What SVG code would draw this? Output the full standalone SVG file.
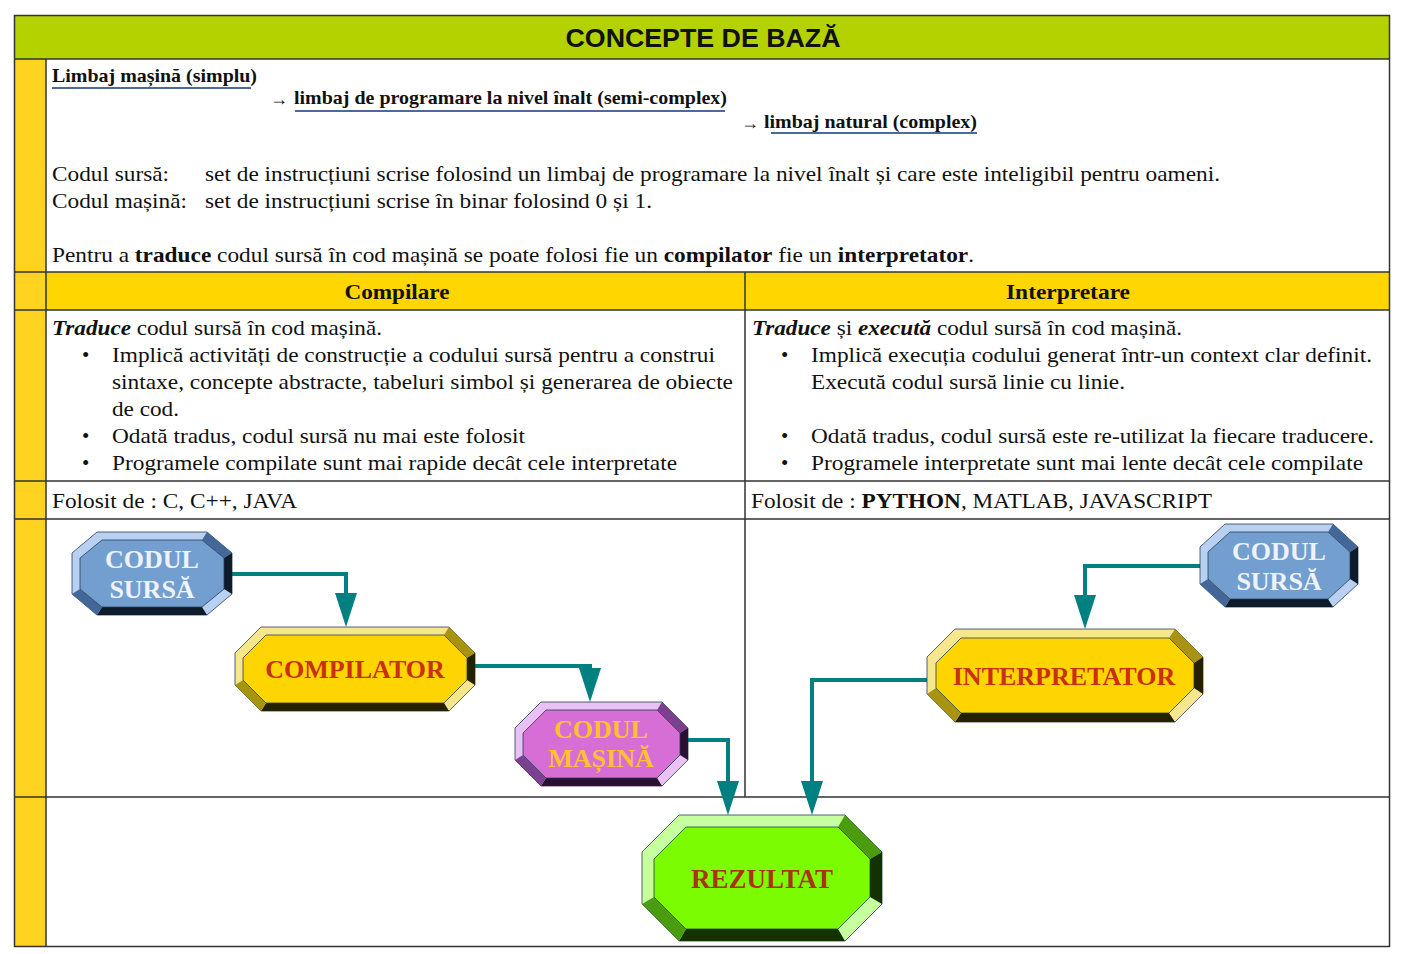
<svg xmlns="http://www.w3.org/2000/svg" width="1403" height="954" viewBox="0 0 1403 954">
<style>
.t{font-family:"Liberation Serif","Times New Roman",serif;font-size:21px;fill:#111}
.tb{font-family:"Liberation Serif","Times New Roman",serif;font-size:19px;font-weight:bold;fill:#111}
.hd{font-family:"Liberation Serif","Times New Roman",serif;font-size:21px;font-weight:bold;fill:#111}
.ar{font-family:"Liberation Serif","Times New Roman",serif;font-size:18px;fill:#111}
.b{font-weight:bold}
.bi{font-weight:bold;font-style:italic}
.ul{stroke:#4a6a9a;stroke-width:2}
.grid{stroke:#333;stroke-width:1.5;fill:none}
.conn{stroke:#008080;stroke-width:4;fill:none;marker-end:url(#arr)}
.lbl{font-family:"Liberation Serif","Times New Roman",serif;font-size:26px;font-weight:bold;text-anchor:middle}
.edge{stroke:#2c3e50;stroke-width:0.8;stroke-linejoin:round}
.blue .lt{fill:#b8d0f2}.blue .md{fill:#44679a}.blue .dk{fill:#0e1b2b}.blue .fc{fill:#729fcf}.blue text{fill:#eef2fa}
.gold .lt{fill:#f6e68e}.gold .md{fill:#a89412}.gold .dk{fill:#242000}.gold .fc{fill:#ffd500}.gold text{fill:#c8300e}
.pink .lt{fill:#e8c2f4}.pink .md{fill:#7c4090}.pink .dk{fill:#2a1032}.pink .fc{fill:#d66ed6}.pink text{fill:#ffc22e}
.green .lt{fill:#c6ffa0}.green .md{fill:#4c9c12}.green .dk{fill:#143200}.green .fc{fill:#7cfc00}.green text{fill:#a83412}
</style>
<defs>
<marker id="arr" markerUnits="userSpaceOnUse" markerWidth="34" markerHeight="22" viewBox="0 0 34 22" refX="26" refY="11" orient="auto">
<path d="M0,0 L34,11 L0,22 Z" fill="#008080"/>
</marker>
</defs>

<g id="table">
<rect x="14" y="15" width="1375" height="44" fill="#b4d200"/>
<rect x="14" y="59" width="32" height="887" fill="#ffd320"/>
<rect x="46" y="272" width="1343" height="38" fill="#ffd600"/>
<rect x="46" y="59" width="1343" height="213" fill="#fff"/>
<rect x="14.5" y="15.5" width="1375" height="931" class="grid"/>
<path class="grid" d="M14,59 H1389 M14,272 H1389 M14,310 H1389 M14,481 H1389 M14,519 H1389 M14,797 H1389 M46,59 V946 M745,272 V797"/>
<text x="703" y="47" text-anchor="middle" style="font-family:'Liberation Sans',Arial,sans-serif;font-size:25px;font-weight:bold;fill:#111" textLength="275" lengthAdjust="spacingAndGlyphs">CONCEPTE DE BAZĂ</text>
</g>

<g id="intro">
<text class="tb" x="52" y="82" textLength="205" lengthAdjust="spacingAndGlyphs">Limbaj mașină (simplu)</text>
<line class="ul" x1="52" y1="88" x2="251" y2="88"/>
<text class="ar" x="270" y="105">→</text>
<text class="tb" x="294" y="104" textLength="433" lengthAdjust="spacingAndGlyphs">limbaj de programare la nivel înalt (semi-complex)</text>
<line class="ul" x1="295" y1="111" x2="725" y2="111"/>
<text class="ar" x="741" y="129">→</text>
<text class="tb" x="764" y="128" textLength="213" lengthAdjust="spacingAndGlyphs">limbaj natural (complex)</text>
<line class="ul" x1="771" y1="133" x2="977" y2="133"/>
<text class="t" x="52" y="181" textLength="117" lengthAdjust="spacingAndGlyphs">Codul sursă:</text>
<text class="t" x="205" y="181" textLength="1015" lengthAdjust="spacingAndGlyphs">set de instrucțiuni scrise folosind un limbaj de programare la nivel înalt și care este inteligibil pentru oameni.</text>
<text class="t" x="52" y="208" textLength="135" lengthAdjust="spacingAndGlyphs">Codul mașină:</text>
<text class="t" x="205" y="208" textLength="447" lengthAdjust="spacingAndGlyphs">set de instrucțiuni scrise în binar folosind 0 și 1.</text>
<text class="t" x="52" y="262" textLength="922" lengthAdjust="spacingAndGlyphs">Pentru a <tspan class="b">traduce</tspan> codul sursă în cod mașină se poate folosi fie un <tspan class="b">compilator</tspan> fie un <tspan class="b">interpretator</tspan>.</text>
</g>

<g id="compilare-text">
<text class="hd" x="397" y="299" text-anchor="middle" textLength="105" lengthAdjust="spacingAndGlyphs">Compilare</text>
<text class="t" x="52" y="335" textLength="330" lengthAdjust="spacingAndGlyphs"><tspan class="bi">Traduce</tspan> codul sursă în cod mașină.</text>
<text class="t" x="82" y="362">•</text>
<text class="t" x="112" y="362" textLength="603" lengthAdjust="spacingAndGlyphs">Implică activități de construcție a codului sursă pentru a construi</text>
<text class="t" x="112" y="389" textLength="621" lengthAdjust="spacingAndGlyphs">sintaxe, concepte abstracte, tabeluri simbol și generarea de obiecte</text>
<text class="t" x="112" y="416" textLength="67" lengthAdjust="spacingAndGlyphs">de cod.</text>
<text class="t" x="82" y="443">•</text>
<text class="t" x="112" y="443" textLength="413" lengthAdjust="spacingAndGlyphs">Odată tradus, codul sursă nu mai este folosit</text>
<text class="t" x="82" y="470">•</text>
<text class="t" x="112" y="470" textLength="565" lengthAdjust="spacingAndGlyphs">Programele compilate sunt mai rapide decât cele interpretate</text>
<text class="t" x="52" y="508" textLength="245" lengthAdjust="spacingAndGlyphs">Folosit de : C, C++, JAVA</text>
</g>

<g id="interpretare-text">
<text class="hd" x="1068" y="299" text-anchor="middle" textLength="124" lengthAdjust="spacingAndGlyphs">Interpretare</text>
<text class="t" x="752" y="335" textLength="430" lengthAdjust="spacingAndGlyphs"><tspan class="bi">Traduce</tspan> și <tspan class="bi">execută</tspan> codul sursă în cod mașină.</text>
<text class="t" x="781" y="362">•</text>
<text class="t" x="811" y="362" textLength="561" lengthAdjust="spacingAndGlyphs">Implică execuția codului generat într-un context clar definit.</text>
<text class="t" x="811" y="389" textLength="314" lengthAdjust="spacingAndGlyphs">Execută codul sursă linie cu linie.</text>
<text class="t" x="781" y="443">•</text>
<text class="t" x="811" y="443" textLength="563" lengthAdjust="spacingAndGlyphs">Odată tradus, codul sursă este re-utilizat la fiecare traducere.</text>
<text class="t" x="781" y="470">•</text>
<text class="t" x="811" y="470" textLength="552" lengthAdjust="spacingAndGlyphs">Programele interpretate sunt mai lente decât cele compilate</text>
<text class="t" x="751" y="508" textLength="461" lengthAdjust="spacingAndGlyphs">Folosit de : <tspan class="b">PYTHON</tspan>, MATLAB, JAVASCRIPT</text>
</g>

<g id="connectors">
<path class="conn" d="M232,574 H346 V619"/>
<path class="conn" d="M475,666 H590 V694"/>
<path class="conn" d="M688,740 H728 V807"/>
<path class="conn" d="M1200,566 H1085 V621"/>
<path class="conn" d="M927,680 H812 V807"/>
</g>

<g id="codul-sursa-1" class="blue">
<polygon class="lt edge" points="97,532 207,532 232,553 232,594 207,615 97,615 72,594 72,553"/>
<polygon class="md" points="207,532 232,553 224,558 202,540"/>
<polygon class="dk" points="232,553 232,594 224,589 224,558"/>
<polygon class="dk" points="207,615 97,615 102,607 202,607"/>
<polygon class="md" points="97,615 72,594 80,589 102,607"/>
<polygon class="fc edge" points="102,540 202,540 224,558 224,589 202,607 102,607 80,589 80,558"/>
<text class="lbl" x="152" y="568">CODUL</text>
<text class="lbl" x="152" y="598">SURSĂ</text>
</g>

<g id="compilator" class="gold">
<polygon class="lt edge" points="261,627 449,627 475,653 475,685 449,711 261,711 235,685 235,653"/>
<polygon class="md" points="449,627 475,653 467,658 444,635"/>
<polygon class="dk" points="475,653 475,685 467,680 467,658"/>
<polygon class="dk" points="449,711 261,711 266,703 444,703"/>
<polygon class="md" points="261,711 235,685 243,680 266,703"/>
<polygon class="fc edge" points="266,635 444,635 467,658 467,680 444,703 266,703 243,680 243,658"/>
<text class="lbl" x="355" y="678">COMPILATOR</text>
</g>

<g id="codul-masina" class="pink">
<polygon class="lt edge" points="541,702 662,702 688,728 688,760 662,786 541,786 515,760 515,728"/>
<polygon class="md" points="662,702 688,728 680,733 657,710"/>
<polygon class="dk" points="688,728 688,760 680,755 680,733"/>
<polygon class="dk" points="662,786 541,786 546,778 657,778"/>
<polygon class="md" points="541,786 515,760 523,755 546,778"/>
<polygon class="fc edge" points="546,710 657,710 680,733 680,755 657,778 546,778 523,755 523,733"/>
<text class="lbl" x="601" y="738">CODUL</text>
<text class="lbl" x="601" y="767">MAȘINĂ</text>
</g>

<g id="rezultat" class="green">
<polygon class="lt edge" points="679,815 845,815 882,852 882,904 845,941 679,941 642,904 642,852"/>
<polygon class="md" points="845,815 882,852 870,859 838,827"/>
<polygon class="dk" points="882,852 882,904 870,897 870,859"/>
<polygon class="dk" points="845,941 679,941 686,929 838,929"/>
<polygon class="md" points="679,941 642,904 654,897 686,929"/>
<polygon class="fc edge" points="686,827 838,827 870,859 870,897 838,929 686,929 654,897 654,859"/>
<text class="lbl" x="762" y="888" style="font-size:27px">REZULTAT</text>
</g>

<g id="codul-sursa-2" class="blue">
<polygon class="lt edge" points="1225,524 1333,524 1358,547 1358,584 1333,607 1225,607 1200,584 1200,547"/>
<polygon class="md" points="1333,524 1358,547 1350,552 1328,532"/>
<polygon class="dk" points="1358,547 1358,584 1350,579 1350,552"/>
<polygon class="dk" points="1333,607 1225,607 1230,599 1328,599"/>
<polygon class="md" points="1225,607 1200,584 1208,579 1230,599"/>
<polygon class="fc edge" points="1230,532 1328,532 1350,552 1350,579 1328,599 1230,599 1208,579 1208,552"/>
<text class="lbl" x="1279" y="560">CODUL</text>
<text class="lbl" x="1279" y="590">SURSĂ</text>
</g>

<g id="interpretator" class="gold">
<polygon class="lt edge" points="955,629 1175,629 1203,657 1203,694 1175,722 955,722 927,694 927,657"/>
<polygon class="md" points="1175,629 1203,657 1194,663 1169,638"/>
<polygon class="dk" points="1203,657 1203,694 1194,688 1194,663"/>
<polygon class="dk" points="1175,722 955,722 961,713 1169,713"/>
<polygon class="md" points="955,722 927,694 936,688 961,713"/>
<polygon class="fc edge" points="961,638 1169,638 1194,663 1194,688 1169,713 961,713 936,688 936,663"/>
<text class="lbl" x="1064" y="685">INTERPRETATOR</text>
</g>
</svg>
